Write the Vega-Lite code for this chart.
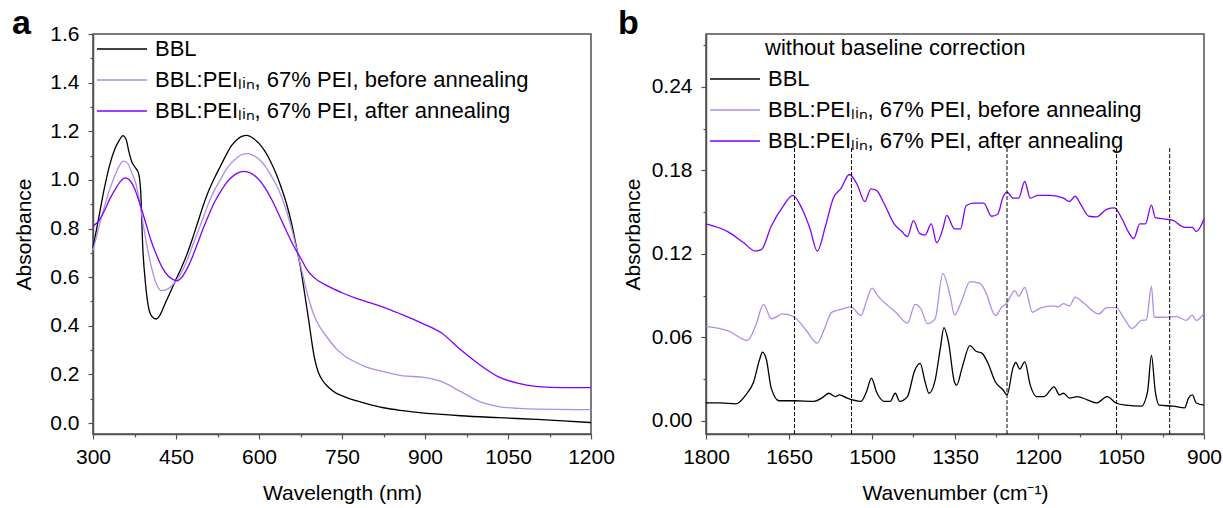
{
"$schema": "https://vega.github.io/schema/vega-lite/v6.json",
"background": "white",
"padding": {"left": 11, "top": 6, "right": 5, "bottom": 4},
"config": {
 "font": "Liberation Sans",
 "view": {"stroke": "#505050", "strokeWidth": 1.5},
 "axis": {"domainColor": "#505050", "domainWidth": 1.5, "tickColor": "#505050", "tickWidth": 1.2, "labelColor": "#000000", "labelFontSize": 21, "titleFontSize": 21, "titleFontWeight": "normal", "titleColor": "#000000", "grid": false, "labelFont": "Liberation Sans", "titleFont": "Liberation Sans", "labelOverlap": false, "labelBound": false, "labelFlush": false},
 "legend": {"orient": "none", "labelFontSize": 22, "labelFont": "Liberation Sans", "labelColor": "#000000", "symbolType": "M-25,0H25", "symbolSize": 4, "symbolStrokeWidth": 1.5, "symbolOpacity": 1, "labelOffset": 22, "rowPadding": 9, "titleFontSize": 22, "titleFont": "Liberation Sans", "titleFontWeight": "normal", "titleColor": "#000000", "padding": 0, "labelLimit": 0, "titleLimit": 0},
 "title": {"fontSize": 34, "fontWeight": "bold", "anchor": "start", "frame": "group", "baseline": "alphabetic", "color": "#000000", "font": "Liberation Sans"}
},
"datasets": {
 "uv": [
  {"s":"k","x":300,"y":0.72},{"s":"k","x":310,"y":0.84},{"s":"k","x":320,"y":0.96},{"s":"k","x":330,"y":1.06},{"s":"k","x":340,"y":1.13},{"s":"k","x":348,"y":1.165},{"s":"k","x":354,"y":1.182},{"s":"k","x":360,"y":1.165},{"s":"k","x":365,"y":1.115},{"s":"k","x":370,"y":1.075},{"s":"k","x":376,"y":1.052},{"s":"k","x":382,"y":1.03},{"s":"k","x":386,"y":0.96},{"s":"k","x":390,"y":0.72},{"s":"k","x":395,"y":0.57},{"s":"k","x":400,"y":0.48},{"s":"k","x":406,"y":0.44},{"s":"k","x":414,"y":0.428},{"s":"k","x":420,"y":0.44},{"s":"k","x":430,"y":0.49},{"s":"k","x":440,"y":0.54},{"s":"k","x":450,"y":0.59},{"s":"k","x":460,"y":0.64},{"s":"k","x":470,"y":0.695},{"s":"k","x":480,"y":0.76},{"s":"k","x":490,"y":0.83},{"s":"k","x":500,"y":0.9},{"s":"k","x":510,"y":0.96},{"s":"k","x":520,"y":1.01},{"s":"k","x":530,"y":1.055},{"s":"k","x":540,"y":1.1},{"s":"k","x":550,"y":1.14},{"s":"k","x":560,"y":1.165},{"s":"k","x":570,"y":1.18},{"s":"k","x":578,"y":1.183},{"s":"k","x":590,"y":1.17},{"s":"k","x":600,"y":1.15},{"s":"k","x":610,"y":1.12},{"s":"k","x":620,"y":1.08},{"s":"k","x":630,"y":1.03},{"s":"k","x":640,"y":0.97},{"s":"k","x":650,"y":0.9},{"s":"k","x":660,"y":0.81},{"s":"k","x":668,"y":0.72},{"s":"k","x":675,"y":0.64},{"s":"k","x":682,"y":0.54},{"s":"k","x":690,"y":0.42},{"s":"k","x":695,"y":0.34},{"s":"k","x":700,"y":0.27},{"s":"k","x":707,"y":0.21},{"s":"k","x":715,"y":0.175},{"s":"k","x":725,"y":0.148},{"s":"k","x":740,"y":0.122},{"s":"k","x":756,"y":0.107},{"s":"k","x":775,"y":0.092},{"s":"k","x":791,"y":0.082},{"s":"k","x":825,"y":0.063},{"s":"k","x":860,"y":0.051},{"s":"k","x":894,"y":0.042},{"s":"k","x":930,"y":0.036},{"s":"k","x":964,"y":0.03},{"s":"k","x":1033,"y":0.022},{"s":"k","x":1102,"y":0.015},{"s":"k","x":1150,"y":0.009},{"s":"k","x":1200,"y":0.002},
  {"s":"l","x":300,"y":0.71},{"s":"l","x":310,"y":0.8},{"s":"l","x":320,"y":0.885},{"s":"l","x":330,"y":0.96},{"s":"l","x":340,"y":1.02},{"s":"l","x":348,"y":1.06},{"s":"l","x":355,"y":1.077},{"s":"l","x":362,"y":1.07},{"s":"l","x":370,"y":1.03},{"s":"l","x":378,"y":0.98},{"s":"l","x":385,"y":0.9},{"s":"l","x":392,"y":0.8},{"s":"l","x":400,"y":0.7},{"s":"l","x":408,"y":0.62},{"s":"l","x":416,"y":0.565},{"s":"l","x":424,"y":0.545},{"s":"l","x":432,"y":0.548},{"s":"l","x":440,"y":0.56},{"s":"l","x":450,"y":0.585},{"s":"l","x":460,"y":0.62},{"s":"l","x":470,"y":0.67},{"s":"l","x":480,"y":0.73},{"s":"l","x":490,"y":0.79},{"s":"l","x":500,"y":0.85},{"s":"l","x":510,"y":0.91},{"s":"l","x":520,"y":0.96},{"s":"l","x":530,"y":1.0},{"s":"l","x":540,"y":1.04},{"s":"l","x":550,"y":1.07},{"s":"l","x":560,"y":1.09},{"s":"l","x":570,"y":1.105},{"s":"l","x":580,"y":1.108},{"s":"l","x":590,"y":1.1},{"s":"l","x":600,"y":1.085},{"s":"l","x":610,"y":1.06},{"s":"l","x":620,"y":1.025},{"s":"l","x":630,"y":0.985},{"s":"l","x":640,"y":0.935},{"s":"l","x":650,"y":0.87},{"s":"l","x":660,"y":0.79},{"s":"l","x":668,"y":0.715},{"s":"l","x":676,"y":0.64},{"s":"l","x":687,"y":0.535},{"s":"l","x":700,"y":0.44},{"s":"l","x":710,"y":0.395},{"s":"l","x":722,"y":0.356},{"s":"l","x":740,"y":0.305},{"s":"l","x":756,"y":0.274},{"s":"l","x":775,"y":0.25},{"s":"l","x":791,"y":0.233},{"s":"l","x":825,"y":0.212},{"s":"l","x":860,"y":0.194},{"s":"l","x":894,"y":0.189},{"s":"l","x":929,"y":0.171},{"s":"l","x":964,"y":0.13},{"s":"l","x":998,"y":0.089},{"s":"l","x":1033,"y":0.068},{"s":"l","x":1070,"y":0.06},{"s":"l","x":1102,"y":0.057},{"s":"l","x":1200,"y":0.055},
  {"s":"p","x":300,"y":0.81},{"s":"p","x":310,"y":0.83},{"s":"p","x":320,"y":0.87},{"s":"p","x":330,"y":0.92},{"s":"p","x":340,"y":0.96},{"s":"p","x":350,"y":0.995},{"s":"p","x":358,"y":1.008},{"s":"p","x":366,"y":1.0},{"s":"p","x":375,"y":0.965},{"s":"p","x":385,"y":0.9},{"s":"p","x":395,"y":0.825},{"s":"p","x":405,"y":0.75},{"s":"p","x":415,"y":0.69},{"s":"p","x":425,"y":0.64},{"s":"p","x":435,"y":0.607},{"s":"p","x":445,"y":0.59},{"s":"p","x":452,"y":0.585},{"s":"p","x":460,"y":0.598},{"s":"p","x":470,"y":0.635},{"s":"p","x":480,"y":0.685},{"s":"p","x":490,"y":0.745},{"s":"p","x":500,"y":0.805},{"s":"p","x":510,"y":0.86},{"s":"p","x":520,"y":0.91},{"s":"p","x":530,"y":0.95},{"s":"p","x":540,"y":0.985},{"s":"p","x":550,"y":1.01},{"s":"p","x":560,"y":1.027},{"s":"p","x":573,"y":1.035},{"s":"p","x":585,"y":1.028},{"s":"p","x":595,"y":1.012},{"s":"p","x":605,"y":0.987},{"s":"p","x":615,"y":0.952},{"s":"p","x":625,"y":0.91},{"s":"p","x":635,"y":0.862},{"s":"p","x":645,"y":0.812},{"s":"p","x":655,"y":0.763},{"s":"p","x":665,"y":0.718},{"s":"p","x":675,"y":0.68},{"s":"p","x":687,"y":0.63},{"s":"p","x":700,"y":0.597},{"s":"p","x":722,"y":0.566},{"s":"p","x":750,"y":0.536},{"s":"p","x":777,"y":0.512},{"s":"p","x":800,"y":0.495},{"s":"p","x":830,"y":0.472},{"s":"p","x":860,"y":0.445},{"s":"p","x":895,"y":0.41},{"s":"p","x":930,"y":0.37},{"s":"p","x":965,"y":0.3},{"s":"p","x":1000,"y":0.238},{"s":"p","x":1033,"y":0.19},{"s":"p","x":1067,"y":0.164},{"s":"p","x":1100,"y":0.151},{"s":"p","x":1150,"y":0.146},{"s":"p","x":1200,"y":0.146}
 ],
 "ir": [
  {"s":"k","x":1800,"y":0.0128},{"s":"k","x":1774,"y":0.0128},{"s":"k","x":1746,"y":0.0121},{"s":"k","x":1728,"y":0.0186},{"s":"k","x":1714,"y":0.0279},{"s":"k","x":1703,"y":0.0442},{"s":"k","x":1698,"y":0.0493},{"s":"k","x":1691,"y":0.0442},{"s":"k","x":1682,"y":0.0233},{"s":"k","x":1668,"y":0.0144},{"s":"k","x":1640,"y":0.0144},{"s":"k","x":1605,"y":0.014},{"s":"k","x":1591,"y":0.0163},{"s":"k","x":1578,"y":0.0198},{"s":"k","x":1566,"y":0.0174},{"s":"k","x":1559,"y":0.0186},{"s":"k","x":1545,"y":0.0163},{"s":"k","x":1520,"y":0.014},{"s":"k","x":1510,"y":0.0209},{"s":"k","x":1501,"y":0.0307},{"s":"k","x":1492,"y":0.0209},{"s":"k","x":1478,"y":0.014},{"s":"k","x":1467,"y":0.014},{"s":"k","x":1458,"y":0.0198},{"s":"k","x":1450,"y":0.014},{"s":"k","x":1436,"y":0.0174},{"s":"k","x":1423,"y":0.036},{"s":"k","x":1413,"y":0.0412},{"s":"k","x":1404,"y":0.0279},{"s":"k","x":1397,"y":0.0198},{"s":"k","x":1386,"y":0.029},{"s":"k","x":1376,"y":0.0535},{"s":"k","x":1370,"y":0.067},{"s":"k","x":1362,"y":0.057},{"s":"k","x":1351,"y":0.0279},{"s":"k","x":1347,"y":0.0256},{"s":"k","x":1337,"y":0.0384},{"s":"k","x":1323,"y":0.054},{"s":"k","x":1312,"y":0.05},{"s":"k","x":1302,"y":0.0488},{"s":"k","x":1291,"y":0.0419},{"s":"k","x":1277,"y":0.0279},{"s":"k","x":1263,"y":0.0221},{"s":"k","x":1256,"y":0.0186},{"s":"k","x":1245,"y":0.0384},{"s":"k","x":1240,"y":0.0419},{"s":"k","x":1233,"y":0.0372},{"s":"k","x":1224,"y":0.0423},{"s":"k","x":1214,"y":0.0256},{"s":"k","x":1203,"y":0.0174},{"s":"k","x":1189,"y":0.0174},{"s":"k","x":1171,"y":0.0244},{"s":"k","x":1161,"y":0.0186},{"s":"k","x":1154,"y":0.0198},{"s":"k","x":1143,"y":0.0163},{"s":"k","x":1129,"y":0.0174},{"s":"k","x":1111,"y":0.0151},{"s":"k","x":1094,"y":0.0128},{"s":"k","x":1075,"y":0.0174},{"s":"k","x":1059,"y":0.0128},{"s":"k","x":1041,"y":0.0112},{"s":"k","x":1013,"y":0.0105},{"s":"k","x":1002,"y":0.0209},{"s":"k","x":995,"y":0.047},{"s":"k","x":988,"y":0.0209},{"s":"k","x":981,"y":0.0112},{"s":"k","x":956,"y":0.0105},{"s":"k","x":935,"y":0.0093},{"s":"k","x":928,"y":0.0163},{"s":"k","x":921,"y":0.0186},{"s":"k","x":914,"y":0.0128},{"s":"k","x":900,"y":0.0112},
  {"s":"l","x":1800,"y":0.0679},{"s":"l","x":1760,"y":0.0647},{"s":"l","x":1725,"y":0.0577},{"s":"l","x":1710,"y":0.0686},{"s":"l","x":1696,"y":0.0837},{"s":"l","x":1682,"y":0.0733},{"s":"l","x":1661,"y":0.0768},{"s":"l","x":1640,"y":0.0744},{"s":"l","x":1619,"y":0.0651},{"s":"l","x":1599,"y":0.0558},{"s":"l","x":1587,"y":0.0651},{"s":"l","x":1573,"y":0.0779},{"s":"l","x":1556,"y":0.08},{"s":"l","x":1538,"y":0.0819},{"s":"l","x":1520,"y":0.0756},{"s":"l","x":1510,"y":0.086},{"s":"l","x":1500,"y":0.0954},{"s":"l","x":1489,"y":0.0896},{"s":"l","x":1471,"y":0.0826},{"s":"l","x":1457,"y":0.078},{"s":"l","x":1436,"y":0.0702},{"s":"l","x":1422,"y":0.0837},{"s":"l","x":1411,"y":0.08},{"s":"l","x":1400,"y":0.0698},{"s":"l","x":1386,"y":0.0733},{"s":"l","x":1372,"y":0.1058},{"s":"l","x":1358,"y":0.0884},{"s":"l","x":1351,"y":0.076},{"s":"l","x":1337,"y":0.0872},{"s":"l","x":1323,"y":0.1},{"s":"l","x":1305,"y":0.0988},{"s":"l","x":1295,"y":0.093},{"s":"l","x":1277,"y":0.0756},{"s":"l","x":1266,"y":0.0814},{"s":"l","x":1256,"y":0.0849},{"s":"l","x":1242,"y":0.0935},{"s":"l","x":1235,"y":0.0895},{"s":"l","x":1224,"y":0.0958},{"s":"l","x":1210,"y":0.078},{"s":"l","x":1196,"y":0.081},{"s":"l","x":1171,"y":0.0826},{"s":"l","x":1164,"y":0.0819},{"s":"l","x":1154,"y":0.0842},{"s":"l","x":1143,"y":0.0826},{"s":"l","x":1133,"y":0.0889},{"s":"l","x":1118,"y":0.0849},{"s":"l","x":1090,"y":0.0768},{"s":"l","x":1076,"y":0.0814},{"s":"l","x":1059,"y":0.0814},{"s":"l","x":1044,"y":0.0733},{"s":"l","x":1030,"y":0.0663},{"s":"l","x":1013,"y":0.0721},{"s":"l","x":1004,"y":0.0726},{"s":"l","x":995,"y":0.0965},{"s":"l","x":990,"y":0.0744},{"s":"l","x":970,"y":0.0744},{"s":"l","x":949,"y":0.0749},{"s":"l","x":932,"y":0.0721},{"s":"l","x":921,"y":0.076},{"s":"l","x":914,"y":0.0721},{"s":"l","x":900,"y":0.0772},
  {"s":"p","x":1800,"y":0.1415},{"s":"p","x":1760,"y":0.1358},{"s":"p","x":1732,"y":0.128},{"s":"p","x":1711,"y":0.122},{"s":"p","x":1700,"y":0.123},{"s":"p","x":1682,"y":0.14},{"s":"p","x":1661,"y":0.154},{"s":"p","x":1643,"y":0.162},{"s":"p","x":1626,"y":0.152},{"s":"p","x":1612,"y":0.138},{"s":"p","x":1599,"y":0.122},{"s":"p","x":1584,"y":0.14},{"s":"p","x":1570,"y":0.16},{"s":"p","x":1556,"y":0.167},{"s":"p","x":1541,"y":0.177},{"s":"p","x":1527,"y":0.17},{"s":"p","x":1513,"y":0.1576},{"s":"p","x":1502,"y":0.1667},{"s":"p","x":1492,"y":0.1656},{"s":"p","x":1478,"y":0.156},{"s":"p","x":1460,"y":0.1415},{"s":"p","x":1446,"y":0.136},{"s":"p","x":1436,"y":0.1324},{"s":"p","x":1425,"y":0.1438},{"s":"p","x":1414,"y":0.1347},{"s":"p","x":1404,"y":0.1335},{"s":"p","x":1393,"y":0.1415},{"s":"p","x":1383,"y":0.128},{"s":"p","x":1372,"y":0.138},{"s":"p","x":1365,"y":0.1477},{"s":"p","x":1351,"y":0.138},{"s":"p","x":1340,"y":0.138},{"s":"p","x":1330,"y":0.1546},{"s":"p","x":1316,"y":0.1564},{"s":"p","x":1298,"y":0.1564},{"s":"p","x":1284,"y":0.147},{"s":"p","x":1273,"y":0.1484},{"s":"p","x":1263,"y":0.161},{"s":"p","x":1256,"y":0.1644},{"s":"p","x":1245,"y":0.16},{"s":"p","x":1235,"y":0.16},{"s":"p","x":1224,"y":0.172},{"s":"p","x":1214,"y":0.16},{"s":"p","x":1200,"y":0.162},{"s":"p","x":1178,"y":0.162},{"s":"p","x":1154,"y":0.16},{"s":"p","x":1143,"y":0.1576},{"s":"p","x":1133,"y":0.1614},{"s":"p","x":1122,"y":0.155},{"s":"p","x":1108,"y":0.147},{"s":"p","x":1094,"y":0.1466},{"s":"p","x":1076,"y":0.152},{"s":"p","x":1062,"y":0.153},{"s":"p","x":1048,"y":0.145},{"s":"p","x":1037,"y":0.136},{"s":"p","x":1027,"y":0.131},{"s":"p","x":1016,"y":0.1415},{"s":"p","x":1006,"y":0.1415},{"s":"p","x":995,"y":0.155},{"s":"p","x":988,"y":0.146},{"s":"p","x":970,"y":0.145},{"s":"p","x":956,"y":0.144},{"s":"p","x":935,"y":0.139},{"s":"p","x":921,"y":0.139},{"s":"p","x":914,"y":0.136},{"s":"p","x":900,"y":0.145}
 ],
 "dash": [{"x":1640},{"x":1537},{"x":1256},{"x":1058},{"x":962}]
},
"bounds": "flush",
"spacing": 115,
"resolve": {"scale": {"color": "independent"}, "legend": {"color": "independent"}},
"hconcat": [
 {
  "title": {"text": "a", "dx": -81, "offset": -18},
  "width": 498, "height": 400,
  "data": {"name": "uv"},
  "mark": {"type": "line", "strokeWidth": 1.3, "interpolate": "monotone"},
  "encoding": {
   "x": {"field": "x", "type": "quantitative", "scale": {"domain": [300, 1200], "nice": false, "zero": false},
    "axis": {"title": "Wavelength (nm)", "values": [300,375,450,525,600,675,750,825,900,975,1050,1125,1200], "format": "d", "labelExpr": "(datum.value - 300) % 150 != 0 ? '' : datum.label", "tickSize": {"condition": {"test": "(datum.value - 300) % 150 != 0", "value": 3}, "value": 5}, "labelPadding": 7, "titlePadding": 15}},
   "y": {"field": "y", "type": "quantitative", "scale": {"domain": [-0.045, 1.6], "nice": false, "zero": false},
    "axis": {"title": "Absorbance", "values": [0,0.1,0.2,0.3,0.4,0.5,0.6,0.7,0.8,0.9,1.0,1.1,1.2,1.3,1.4,1.5,1.6], "format": ".1f", "labelExpr": "round(datum.value*10) % 2 == 1 ? '' : datum.label", "tickSize": {"condition": {"test": "round(datum.value*10) % 2 == 1", "value": 3}, "value": 5}, "labelPadding": 9, "titlePadding": 15}},
   "color": {"field": "s", "type": "nominal", "scale": {"domain": ["k", "l", "p"], "range": ["#000000", "#b08de8", "#7f00ff"]},
    "legend": {"title": null, "legendX": 18, "legendY": 4, "labelExpr": "datum.label == 'k' ? 'BBL' : datum.label == 'l' ? 'BBL:PEIₗᵢₙ, 67% PEI, before annealing' : 'BBL:PEIₗᵢₙ, 67% PEI, after annealing'"}}
  }
 },
 {
  "title": {"text": "b", "dx": -88, "offset": -7},
  "width": 498, "height": 400,
  "layer": [
   {
    "data": {"name": "ir"},
    "mark": {"type": "line", "strokeWidth": 1.3, "interpolate": "monotone"},
    "encoding": {
     "x": {"field": "x", "type": "quantitative", "scale": {"domain": [900, 1800], "reverse": true, "nice": false, "zero": false},
      "axis": {"title": "Wavenumber (cm⁻¹)", "values": [900,975,1050,1125,1200,1275,1350,1425,1500,1575,1650,1725,1800], "labelExpr": "(1800 - datum.value) % 150 != 0 ? '' : datum.label", "format": "d", "tickSize": {"condition": {"test": "(1800 - datum.value) % 150 != 0", "value": 3}, "value": 5}, "labelPadding": 7, "titlePadding": 15}},
     "y": {"field": "y", "type": "quantitative", "scale": {"domain": [-0.0095, 0.278], "nice": false, "zero": false},
      "axis": {"title": "Absorbance", "values": [0,0.03,0.06,0.09,0.12,0.15,0.18,0.21,0.24,0.27], "format": ".2f", "labelExpr": "round(datum.value*100) % 6 != 0 ? '' : datum.label", "tickSize": {"condition": {"test": "round(datum.value*100) % 6 != 0", "value": 3}, "value": 5}, "labelPadding": 9, "titlePadding": 8}},
     "color": {"field": "s", "type": "nominal", "scale": {"domain": ["k", "l", "p"], "range": ["#000000", "#b08de8", "#7f00ff"]},
      "legend": {"title": "without baseline correction", "titlePadding": 8, "legendX": 18, "legendY": 4, "encode": {"title": {"update": {"dx": {"value": 41}}}}, "labelExpr": "datum.label == 'k' ? 'BBL' : datum.label == 'l' ? 'BBL:PEIₗᵢₙ, 67% PEI, before annealing' : 'BBL:PEIₗᵢₙ, 67% PEI, after annealing'"}}
    }
   },
   {
    "data": {"name": "dash"},
    "mark": {"type": "rule", "strokeDash": [4, 2], "color": "#000000", "strokeWidth": 1},
    "encoding": {
     "x": {"field": "x", "type": "quantitative"},
     "y": {"datum": 0.196},
     "y2": {"datum": -0.0095}
    }
   }
  ]
 }
]
}
